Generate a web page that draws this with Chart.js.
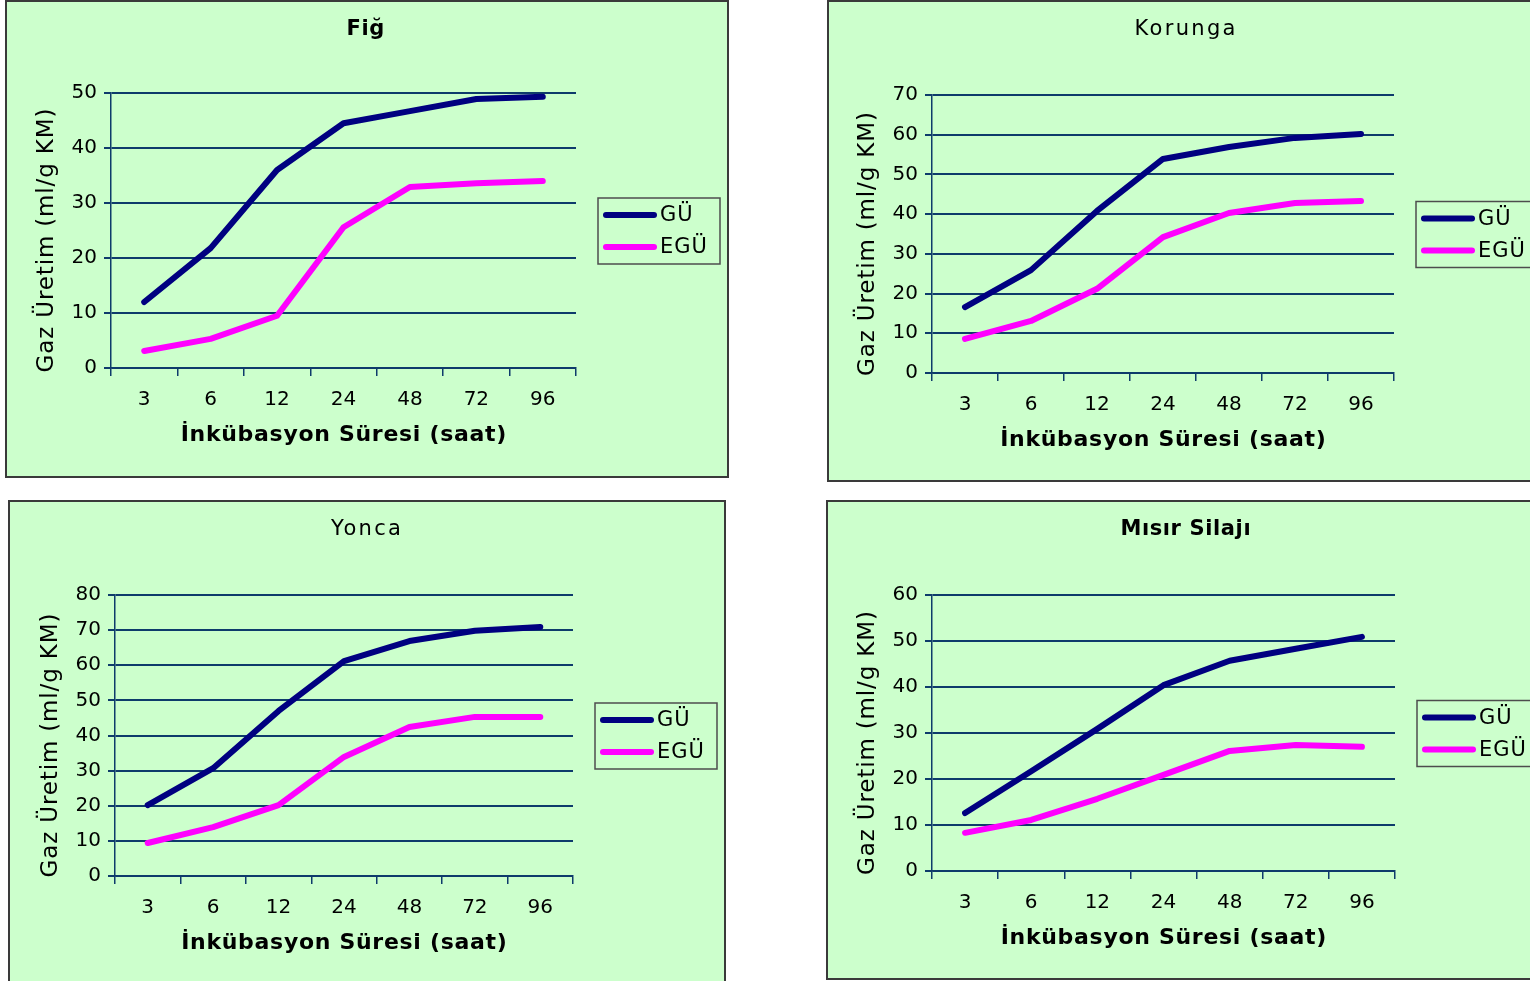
<!DOCTYPE html>
<html lang="tr">
<head>
<meta charset="utf-8">
<title>Gaz Üretim</title>
<script src="https://cdn.jsdelivr.net/npm/chart.js@4.4.1/dist/chart.umd.min.js"></script>
<style>
  html, body { margin: 0; padding: 0; background: #ffffff; overflow: hidden; width: 1530px; height: 981px; }
  .panel { position: absolute; box-sizing: border-box; border: 2px solid #3a3a3a; background: #CCFFCC; overflow: hidden; }
  .panel canvas { display: block; }
</style>
</head>
<body>
<div class="panel" id="p0" style="left:5px; top:0px; width:724px; height:478px;"><canvas id="c0"></canvas></div>
<div class="panel" id="p1" style="left:827px; top:0px; width:720px; height:482px;"><canvas id="c1"></canvas></div>
<div class="panel" id="p2" style="left:8px; top:500px; width:718px; height:500px;"><canvas id="c2"></canvas></div>
<div class="panel" id="p3" style="left:826px; top:500px; width:720px; height:480px;"><canvas id="c3"></canvas></div>
<script>
// Incubation times (hours)
const categories = ['3', '6', '12', '24', '48', '72', '96'];
const seriesNames = ['GÜ', 'EGÜ'];

// Gas production, ml/g DM
const figGU = [12.0, 21.8, 36.0, 44.5, 46.7, 48.9, 49.3];
const figEGU = [3.1, 5.3, 9.5, 25.6, 32.9, 33.6, 34.0];
const korungaGU = [16.6, 25.9, 40.8, 53.9, 56.9, 59.2, 60.2];
const korungaEGU = [8.6, 13.1, 21.2, 34.2, 40.3, 42.8, 43.3];
const yoncaGU = [20.2, 30.7, 47.0, 61.2, 66.9, 69.8, 70.9];
const yoncaEGU = [9.4, 13.9, 20.2, 33.9, 42.4, 45.3, 45.3];
const misirGU = [12.6, 21.7, 30.9, 40.4, 45.7, 48.3, 50.9];
const misirEGU = [8.3, 11.1, 15.7, 20.9, 26.1, 27.4, 27.0];

const chartTitles = ['Fiğ', 'Korunga', 'Yonca', 'Mısır Silajı'];
const yMaxes = [50, 70, 80, 60];
const yStep = 10;
const xAxisTitle = 'İnkübasyon Süresi (saat)';
const yAxisTitle = 'Gaz Üretim (ml/g KM)';

const seriesColors = ['#000080', '#FF00FF'];
const gridColor = '#0e3b6b';
const FONT = '"DejaVu Sans", Verdana, sans-serif';

// Panel layout: canvas size and plot rectangle inside it
const panels = [
  { canvas: 'c0', w: 720, h: 474, area: { left: 104, top: 91, right: 569, bottom: 366 }, boldTitle: true,  series: [figGU, figEGU] },
  { canvas: 'c1', w: 716, h: 478, area: { left: 103, top: 93, right: 565, bottom: 371 }, boldTitle: false, series: [korungaGU, korungaEGU] },
  { canvas: 'c2', w: 714, h: 496, area: { left: 105, top: 93, right: 563, bottom: 374 }, boldTitle: false, series: [yoncaGU, yoncaEGU] },
  { canvas: 'c3', w: 716, h: 476, area: { left: 104, top: 93, right: 567, bottom: 369 }, boldTitle: true,  series: [misirGU, misirEGU] }
];

function spacedText(ctx, text, x, y, font, spacing, align) {
  ctx.save();
  ctx.font = font;
  ctx.letterSpacing = spacing + 'px';
  ctx.fillStyle = '#000';
  ctx.textBaseline = 'middle';
  const w = ctx.measureText(text).width - spacing;
  const sx = align === 'center' ? x - w / 2 : x;
  ctx.textAlign = 'left';
  ctx.fillText(text, sx, y);
  ctx.restore();
}

// Titles, axis titles and boxed legend
const decorPlugin = {
  id: 'decor',
  afterDraw(chart, args, opts) {
    const ctx = chart.ctx;
    const a = chart.chartArea;
    const cx = (a.left + a.right) / 2;
    const cy = (a.top + a.bottom) / 2;

    // chart title
    if (opts.bold) {
      spacedText(ctx, opts.title, cx + 22, 28, 'bold 21px ' + FONT, 0.6, 'center');
    } else {
      spacedText(ctx, opts.title, cx + 22, 28, '21px ' + FONT, 2.3, 'center');
    }

    // x axis title
    spacedText(ctx, xAxisTitle, cx, a.bottom + 67, 'bold 22px ' + FONT, 0.7, 'center');

    // y axis title (rotated)
    ctx.save();
    ctx.translate(a.left - 64, cy + 10);
    ctx.rotate(-Math.PI / 2);
    spacedText(ctx, yAxisTitle, 0, 0, '23px ' + FONT, 0.85, 'center');
    ctx.restore();

    // legend box
    const lx = a.right + 22;
    const ly = cy - 32.5;
    ctx.save();
    ctx.strokeStyle = '#4d4d4d';
    ctx.lineWidth = 1.5;
    ctx.strokeRect(lx, ly, 122, 66);
    chart.data.datasets.forEach((ds, i) => {
      const y = ly + 17 + i * 32;
      ctx.beginPath();
      ctx.strokeStyle = ds.borderColor;
      ctx.lineWidth = 6;
      ctx.lineCap = 'round';
      ctx.moveTo(lx + 8, y);
      ctx.lineTo(lx + 56, y);
      ctx.stroke();
      spacedText(ctx, ds.label, lx + 62, y + 1, '21px ' + FONT, 1, 'left');
    });
    ctx.restore();
  }
};

panels.forEach((p, idx) => {
  const canvas = document.getElementById(p.canvas);
  canvas.width = p.w;
  canvas.height = p.h;
  canvas.style.width = p.w + 'px';
  canvas.style.height = p.h + 'px';
  const a = p.area;

  new Chart(canvas, {
    type: 'line',
    data: {
      labels: categories,
      datasets: p.series.map((vals, i) => ({
        label: seriesNames[i],
        data: vals,
        borderColor: seriesColors[i],
        backgroundColor: seriesColors[i],
        borderWidth: 6,
        pointRadius: 0,
        pointHoverRadius: 0,
        tension: 0,
        borderCapStyle: 'round',
        borderJoinStyle: 'round',
        fill: false,
        clip: false
      }))
    },
    options: {
      responsive: false,
      animation: false,
      devicePixelRatio: 1,
      layout: { padding: { left: 0, top: a.top, right: p.w - a.right, bottom: 0 } },
      plugins: {
        legend: { display: false },
        title: { display: false },
        tooltip: { enabled: false },
        decor: { title: chartTitles[idx], bold: p.boldTitle }
      },
      scales: {
        x: {
          type: 'category',
          offset: true,
          afterFit(scale) { scale.height = p.h - a.bottom; },
          grid: {
            offset: true,
            drawOnChartArea: false,
            drawTicks: true,
            tickLength: 8,
            color: gridColor,
            lineWidth: 1.5
          },
          border: { display: true, color: gridColor, width: 1.5 },
          ticks: {
            color: '#000',
            padding: 12,
            font: { family: FONT, size: 20 },
            maxRotation: 0,
            autoSkip: false
          }
        },
        y: {
          min: 0,
          max: yMaxes[idx],
          afterFit(scale) { scale.width = a.left; },
          grid: {
            drawOnChartArea: true,
            drawTicks: true,
            tickLength: 7,
            color: gridColor,
            lineWidth: 2
          },
          border: { display: true, color: gridColor, width: 1.5 },
          ticks: {
            stepSize: yStep,
            color: '#000',
            padding: 7,
            font: { family: FONT, size: 20 }
          }
        }
      }
    },
    plugins: [decorPlugin]
  });
});
</script>
</body>
</html>
